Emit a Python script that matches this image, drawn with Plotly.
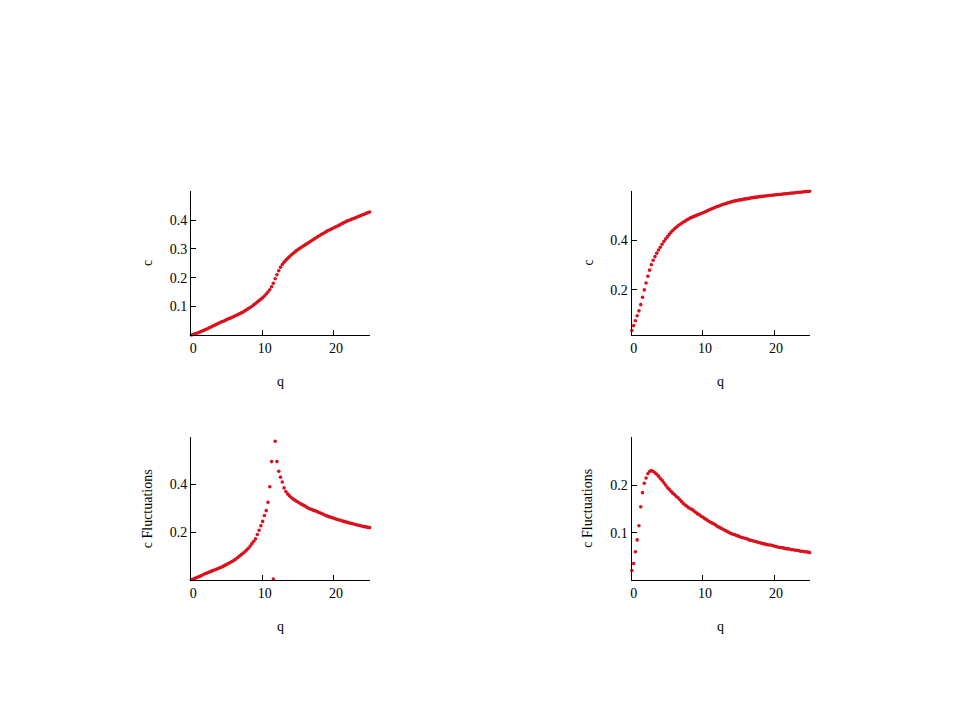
import plotly.graph_objects as go

# q values (step 0.25 from 0 to 25)
Q = [0, 0.25, 0.5, 0.75, 1, 1.25, 1.5, 1.75, 2, 2.25, 2.5, 2.75, 3, 3.25, 3.5, 3.75,
     4, 4.25, 4.5, 4.75, 5, 5.25, 5.5, 5.75, 6, 6.25, 6.5, 6.75, 7, 7.25, 7.5, 7.75,
     8, 8.25, 8.5, 8.75, 9, 9.25, 9.5, 9.75, 10, 10.25, 10.5, 10.75, 11, 11.25, 11.5, 11.75,
     12, 12.25, 12.5, 12.75, 13, 13.25, 13.5, 13.75, 14, 14.25, 14.5, 14.75, 15, 15.25, 15.5, 15.75,
     16, 16.25, 16.5, 16.75, 17, 17.25, 17.5, 17.75, 18, 18.25, 18.5, 18.75, 19, 19.25, 19.5, 19.75,
     20, 20.25, 20.5, 20.75, 21, 21.25, 21.5, 21.75, 22, 22.25, 22.5, 22.75, 23, 23.25, 23.5, 23.75,
     24, 24.25, 24.5, 24.75, 25]

# top-left: c vs q
C_LEFT = [0.0, 0.002, 0.004, 0.006, 0.008, 0.011, 0.014, 0.016, 0.019, 0.022, 0.025, 0.028, 0.031, 0.034, 0.037, 0.040,
          0.043, 0.046, 0.048, 0.051, 0.054, 0.057, 0.059, 0.062, 0.065, 0.068, 0.071, 0.074, 0.077, 0.080, 0.084, 0.088,
          0.092, 0.096, 0.100, 0.105, 0.110, 0.115, 0.120, 0.125, 0.130, 0.136, 0.143, 0.150, 0.158, 0.168, 0.180, 0.196,
          0.210, 0.224, 0.236, 0.246, 0.254, 0.261, 0.267, 0.273, 0.279, 0.284, 0.289, 0.294, 0.299, 0.303, 0.307, 0.311,
          0.315, 0.319, 0.323, 0.327, 0.331, 0.335, 0.339, 0.343, 0.347, 0.351, 0.354, 0.358, 0.362, 0.365, 0.368, 0.371,
          0.374, 0.377, 0.380, 0.383, 0.387, 0.390, 0.393, 0.396, 0.399, 0.401, 0.404, 0.406, 0.409, 0.411, 0.414, 0.416,
          0.419, 0.421, 0.424, 0.426, 0.429]

# top-right: c vs q
C_RIGHT = [0.035, 0.055, 0.075, 0.095, 0.115, 0.140, 0.170, 0.200, 0.228, 0.255, 0.280, 0.302, 0.320, 0.335, 0.349, 0.362,
           0.373, 0.385, 0.396, 0.406, 0.415, 0.425, 0.433, 0.441, 0.448, 0.454, 0.460, 0.465, 0.470, 0.475, 0.479, 0.484,
           0.488, 0.492, 0.495, 0.498, 0.501, 0.504, 0.507, 0.510, 0.513, 0.516, 0.519, 0.523, 0.526, 0.529, 0.532, 0.535,
           0.538, 0.540, 0.543, 0.546, 0.548, 0.550, 0.553, 0.555, 0.557, 0.559, 0.561, 0.562, 0.564, 0.565, 0.566, 0.568,
           0.569, 0.570, 0.571, 0.573, 0.574, 0.575, 0.576, 0.577, 0.578, 0.579, 0.580, 0.581, 0.582, 0.583, 0.584, 0.584,
           0.585, 0.586, 0.587, 0.587, 0.588, 0.589, 0.590, 0.590, 0.591, 0.592, 0.593, 0.593, 0.594, 0.595, 0.596, 0.596,
           0.597, 0.598, 0.599, 0.599, 0.600]

# bottom-left: c fluctuations vs q
F_LEFT = [0.002, 0.004, 0.007, 0.010, 0.013, 0.016, 0.020, 0.024, 0.027, 0.030, 0.033, 0.036, 0.039, 0.042, 0.045, 0.048,
          0.051, 0.054, 0.058, 0.062, 0.066, 0.070, 0.074, 0.078, 0.083, 0.088, 0.094, 0.100, 0.106, 0.112, 0.118, 0.125,
          0.133, 0.142, 0.152, 0.162, 0.172, 0.190, 0.208, 0.227, 0.245, 0.270, 0.290, 0.325, 0.390, 0.495, 0.004, 0.580,
          0.495, 0.455, 0.430, 0.410, 0.385, 0.370, 0.360, 0.352, 0.345, 0.339, 0.334, 0.329, 0.325, 0.320, 0.316, 0.312,
          0.308, 0.303, 0.299, 0.296, 0.293, 0.290, 0.288, 0.284, 0.281, 0.278, 0.275, 0.271, 0.268, 0.265, 0.263, 0.260,
          0.258, 0.255, 0.253, 0.251, 0.249, 0.246, 0.244, 0.242, 0.240, 0.238, 0.236, 0.234, 0.232, 0.230, 0.229, 0.227,
          0.225, 0.223, 0.222, 0.220, 0.219]

# bottom-right: c fluctuations vs q
F_RIGHT = [0.020, 0.035, 0.060, 0.085, 0.115, 0.155, 0.185, 0.205, 0.216, 0.225, 0.230, 0.232, 0.230, 0.227, 0.224, 0.220,
           0.215, 0.211, 0.206, 0.201, 0.196, 0.192, 0.188, 0.184, 0.181, 0.177, 0.174, 0.170, 0.166, 0.162, 0.159, 0.156,
           0.153, 0.151, 0.149, 0.146, 0.143, 0.140, 0.138, 0.135, 0.133, 0.130, 0.128, 0.125, 0.123, 0.121, 0.119, 0.117,
           0.114, 0.112, 0.110, 0.108, 0.106, 0.104, 0.102, 0.100, 0.098, 0.097, 0.096, 0.094, 0.093, 0.091, 0.090, 0.089,
           0.088, 0.087, 0.085, 0.084, 0.083, 0.082, 0.081, 0.080, 0.079, 0.078, 0.077, 0.076, 0.075, 0.074, 0.074, 0.073,
           0.072, 0.071, 0.070, 0.069, 0.069, 0.068, 0.067, 0.066, 0.066, 0.065, 0.064, 0.064, 0.063, 0.063, 0.062, 0.061,
           0.061, 0.060, 0.060, 0.059, 0.058]

X_TICKS = [0, 10, 20]
Y_TICKS = {
    "yaxis": [0.1, 0.2, 0.3, 0.4],
    "yaxis2": [0.2, 0.4],
    "yaxis3": [0.2, 0.4],
    "yaxis4": [0.1, 0.2],
}
Y_RANGES = {
    "yaxis": [0.0, 0.502],
    "yaxis2": [0.017, 0.601],
    "yaxis3": [0.0, 0.6],
    "yaxis4": [0.0, 0.304],
}
Y_TITLES = ["c", "c", "c Fluctuations", "c Fluctuations"]
X_TITLE = "q"

MARK = dict(size=3.6, color="rgb(218,16,28)", symbol="circle")
FONT = "Liberation Serif, Times New Roman, serif"

fig = go.Figure()
series = [C_LEFT, C_RIGHT, F_LEFT, F_RIGHT]
for i, ys in enumerate(series):
    sfx = "" if i == 0 else str(i + 1)
    fig.add_trace(go.Scatter(x=Q, y=ys, mode="markers", marker=MARK,
                             xaxis="x" + sfx, yaxis="y" + sfx, showlegend=False,
                             cliponaxis=False))

W, H = 960, 720
x_doms = [[191 / W, 370 / W], [631.5 / W, 810 / W]]
y_doms = [[1 - 335 / H, 1 - 191 / H], [1 - 580 / H, 1 - 436.5 / H]]

axis_common = dict(showline=True, linecolor="black", linewidth=1, showgrid=False,
                   zeroline=False, ticks="inside", ticklen=5, tickcolor="black",
                   tickfont=dict(family=FONT, size=14, color="black"), mirror=False)

layout = dict(width=W, height=H, margin=dict(l=0, r=0, t=0, b=0),
              paper_bgcolor="white", plot_bgcolor="white", showlegend=False)
annotations = []
for i in range(4):
    sfx = "" if i == 0 else str(i + 1)
    col, row = i % 2, i // 2
    xd, yd = x_doms[col], y_doms[row]
    layout["xaxis" + sfx] = dict(axis_common, domain=xd, range=[-0.05, 25.05],
                                 tickvals=X_TICKS, anchor="y" + sfx, ticklabelshift=2)
    yk = "yaxis" + sfx
    layout[yk] = dict(axis_common, domain=yd, range=Y_RANGES[yk],
                      tickvals=Y_TICKS[yk], anchor="x" + sfx)
    annotations.append(dict(text=X_TITLE, xref="paper", yref="paper",
                            x=(xd[0] + xd[1]) / 2, y=yd[0] - 46 / H,
                            showarrow=False, xanchor="center", yanchor="middle",
                            font=dict(family=FONT, size=14, color="black")))
    annotations.append(dict(text=Y_TITLES[i], xref="paper", yref="paper",
                            x=xd[0] - 44 / W, y=(yd[0] + yd[1]) / 2, textangle=-90,
                            showarrow=False, xanchor="center", yanchor="middle",
                            font=dict(family=FONT, size=14, color="black")))
layout["annotations"] = annotations
fig.update_layout(**layout)
fig.write_html("out.html", config={"displayModeBar": False},
               post_script="document.body.style.margin='0';document.body.style.overflow='hidden';")
